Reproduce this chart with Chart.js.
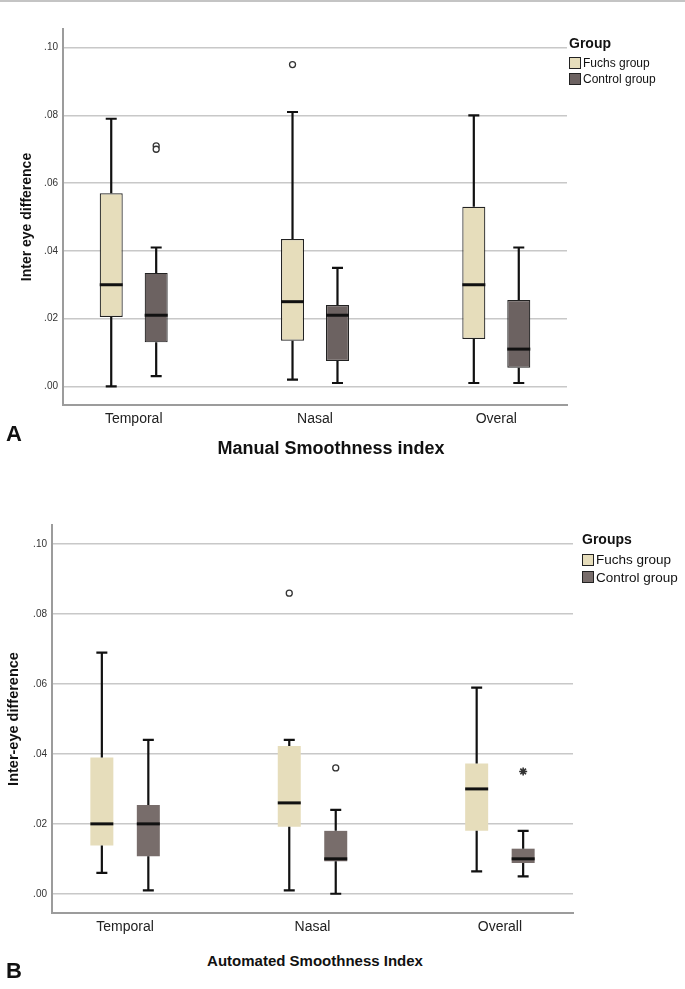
<!DOCTYPE html>
<html>
<head>
<meta charset="utf-8">
<script src="https://cdn.jsdelivr.net/npm/chart.js@4.4.1/dist/chart.umd.min.js"></script>
<style>
  html, body { margin: 0; padding: 0; background: #fff; }
  body { width: 685px; height: 989px; position: relative; overflow: hidden; font-family: 'Liberation Sans', Arial, sans-serif; color: #111; }
  canvas { position: absolute; left: 0; }
  #chartA { top: 0; }
  #chartB { top: 480px; }
  .topline { position: absolute; left: 0; top: 0; width: 685px; height: 2px; background: #c4c4c4; }
  .txt { position: absolute; white-space: nowrap; line-height: 1; }
  .panel { font-weight: bold; font-size: 22px; }
  .xtitle { font-weight: bold; transform: translate(-50%, -50%); }
  .legend { position: absolute; }
  .legend .ttl { font-weight: bold; font-size: 14px; margin-bottom: 4px; }
  .legend .item { display: flex; align-items: center; height: 15px; }
  .legend .sw { width: 10px; height: 10px; border: 1px solid #222; margin-right: 2px; }
</style>
</head>
<body>
<div class="topline"></div>
<canvas id="chartA" width="685" height="440"></canvas>
<canvas id="chartB" width="685" height="470"></canvas>

<div class="txt panel" style="left:6px; top:423px;">A</div>
<div class="txt xtitle" style="left:331px; top:448px; font-size:18px;">Manual Smoothness index</div>
<div class="txt panel" style="left:6px; top:960px;">B</div>
<div class="txt xtitle" style="left:315px; top:960px; font-size:15px;">Automated Smoothness Index</div>

<div class="legend" id="legendA" style="left:569px; top:35px;"></div>
<div class="legend" id="legendB" style="left:582px; top:531px;"></div>

<script>
/* DATA */
const groups = ['Fuchs group', 'Control group'];
const yTicks = [0, 0.02, 0.04, 0.06, 0.08, 0.1];

// A: manual smoothness index, [min, q1, median, q3, max] per category
const manualCats = ['Temporal', 'Nasal', 'Overal'];
const manualFuchs = [
  [0.0, 0.0205, 0.03, 0.057, 0.079],
  [0.002, 0.0135, 0.025, 0.0435, 0.081],
  [0.001, 0.014, 0.03, 0.053, 0.08],
];
const manualControl = [
  [0.003, 0.013, 0.021, 0.0335, 0.041],
  [0.001, 0.0075, 0.021, 0.024, 0.035],
  [0.001, 0.0055, 0.011, 0.0255, 0.041],
];
const manualFuchsOut = [[], [0.095], []];
const manualControlOut = [[0.071, 0.070], [], []];

// B: automated smoothness index
const autoCats = ['Temporal', 'Nasal', 'Overall'];
const autoFuchs = [
  [0.006, 0.0138, 0.02, 0.039, 0.069],
  [0.001, 0.0192, 0.026, 0.0423, 0.044],
  [0.0064, 0.018, 0.03, 0.0373, 0.059],
];
const autoControl = [
  [0.001, 0.0107, 0.02, 0.0254, 0.044],
  [0.0, 0.0093, 0.01, 0.018, 0.024],
  [0.005, 0.0088, 0.01, 0.0129, 0.018],
];
const autoFuchsOut = [[], [0.086], []];
const autoControlOut = [[], [0.036], []];
const autoControlExtreme = [[], [], [0.035]];

/* COLORS */
const beige = '#e6ddbb';
const greyA = '#6c6261';
const greyB = '#786d6b';
const ink = '#111';
const gridGrey = '#c8c8c8';
const axisGrey = '#9c9c9c';
const font = "'Liberation Sans', Arial, sans-serif";

const boxOffset = 0.124;

/* PLUGIN: WHISKERS + MEDIAN */
const boxWhiskers = {
  id: 'boxWhiskers',
  afterDatasetsDraw(chart) {
    const ctx = chart.ctx;
    const yScale = chart.scales.y;
    const py = (v) => yScale.getPixelForValue(v);
    chart.data.datasets.forEach((ds, di) => {
      if (!ds.stats) return;
      const meta = chart.getDatasetMeta(di);
      meta.data.forEach((bar, i) => {
        const [lo, q1, med, q3, hi] = ds.stats[i];
        const x = bar.x;
        const half = bar.width / 2;
        const cap = 5.5;
        ctx.save();
        ctx.strokeStyle = ink;
        ctx.lineWidth = 2.2;
        ctx.beginPath();
        ctx.moveTo(x, py(q1));
        ctx.lineTo(x, py(lo));
        ctx.moveTo(x, py(q3));
        ctx.lineTo(x, py(hi));
        ctx.moveTo(x - cap, py(lo));
        ctx.lineTo(x + cap, py(lo));
        ctx.moveTo(x - cap, py(hi));
        ctx.lineTo(x + cap, py(hi));
        ctx.stroke();
        ctx.lineWidth = 3;
        ctx.beginPath();
        ctx.moveTo(x - half, py(med));
        ctx.lineTo(x + half, py(med));
        ctx.stroke();
        ctx.restore();
      });
    });
  },
};

function boxData(stats, shift) {
  return stats.map((s, i) => ({ x: i + 1 + shift, y: [s[1], s[3]] }));
}

function pointData(lists, shift) {
  const pts = [];
  lists.forEach((vals, i) => vals.forEach((v) => pts.push({ x: i + 1 + shift, y: v })));
  return pts;
}

function outlierSet(lists, shift, style) {
  return {
    type: 'scatter',
    data: pointData(lists, shift),
    pointStyle: style,
    pointRadius: style === 'star' ? 4 : 3,
    backgroundColor: '#fff',
    borderColor: '#333',
    borderWidth: style === 'star' ? 1.6 : 1.3,
  };
}

function makeBoxChart(id, o) {
  const datasets = [
    {
      label: groups[0],
      data: boxData(o.fuchs, -boxOffset),
      stats: o.fuchs,
      backgroundColor: beige,
      borderColor: '#222',
      borderWidth: o.border,
      borderSkipped: false,
      grouped: false,
      maxBarThickness: 23,
    },
    {
      label: groups[1],
      data: boxData(o.control, boxOffset),
      stats: o.control,
      backgroundColor: o.grey,
      borderColor: '#222',
      borderWidth: o.border,
      borderSkipped: false,
      grouped: false,
      maxBarThickness: 23,
    },
    outlierSet(o.fuchsOut, -boxOffset, 'circle'),
    outlierSet(o.controlOut, boxOffset, 'circle'),
  ];
  if (o.controlExtreme) datasets.push(outlierSet(o.controlExtreme, boxOffset, 'star'));

  new Chart(document.getElementById(id), {
    type: 'bar',
    data: { datasets },
    plugins: [boxWhiskers],
    options: {
      responsive: false,
      animation: false,
      layout: { padding: { top: o.top, right: o.right, left: 0, bottom: 0 } },
      plugins: { legend: { display: false }, tooltip: { enabled: false } },
      scales: {
        x: {
          type: 'linear',
          offset: false,
          min: 0.61,
          max: 3.39,
          afterBuildTicks: (s) => { s.ticks = o.cats.map((c, i) => ({ value: i + 1 })); },
          afterFit: (s) => { s.height = o.xHeight; },
          grid: { display: false, drawTicks: false },
          border: { display: true, color: axisGrey, width: 2 },
          ticks: {
            autoSkip: false,
            maxRotation: 0,
            padding: 6,
            color: '#222',
            font: { family: font, size: 14 },
            callback: (v) => o.cats[Math.round(v) - 1],
          },
        },
        y: {
          min: -0.0055,
          max: 0.1055,
          afterBuildTicks: (s) => { s.ticks = yTicks.map((v) => ({ value: v })); },
          afterFit: (s) => { s.width = o.yWidth; },
          grid: { color: gridGrey, lineWidth: 1.6, drawTicks: false },
          border: { display: true, color: axisGrey, width: 2 },
          ticks: {
            padding: 5,
            color: '#333',
            font: { family: font, size: 10 },
            callback: (v) => v.toFixed(2).replace(/^0/, ''),
          },
          title: {
            display: true,
            text: o.yTitle,
            color: ink,
            font: { family: font, size: o.yTitleSize, weight: 'bold' },
            padding: { top: o.yTitlePad, bottom: 0 },
          },
        },
      },
    },
  });
}

function makeLegend(id, title, colors, size) {
  const el = document.getElementById(id);
  let html = '<div class="ttl">' + title + '</div>';
  groups.forEach((g, i) => {
    html += '<div class="item" style="font-size:' + size + 'px;height:' + (size + 4) + 'px">' +
      '<span class="sw" style="background:' + colors[i] + '"></span>' + g + '</div>';
  });
  el.innerHTML = html;
}

/* A */
makeBoxChart('chartA', {
  cats: manualCats,
  fuchs: manualFuchs,
  control: manualControl,
  fuchsOut: manualFuchsOut,
  controlOut: manualControlOut,
  grey: greyA,
  border: 1.2,
  top: 29,
  right: 118,
  xHeight: 35,
  yWidth: 63,
  yTitle: 'Inter eye difference',
  yTitleSize: 14,
  yTitlePad: 18.6,
});
makeLegend('legendA', 'Group', [beige, greyA], 12);

/* B */
makeBoxChart('chartB', {
  cats: autoCats,
  fuchs: autoFuchs,
  control: autoControl,
  fuchsOut: autoFuchsOut,
  controlOut: autoControlOut,
  controlExtreme: autoControlExtreme,
  grey: greyB,
  border: 0,
  top: 45,
  right: 112,
  xHeight: 37,
  yWidth: 52,
  yTitle: 'Inter-eye difference',
  yTitleSize: 14.5,
  yTitlePad: 5,
});
makeLegend('legendB', 'Groups', [beige, greyB], 13.5);
</script>
</body>
</html>
